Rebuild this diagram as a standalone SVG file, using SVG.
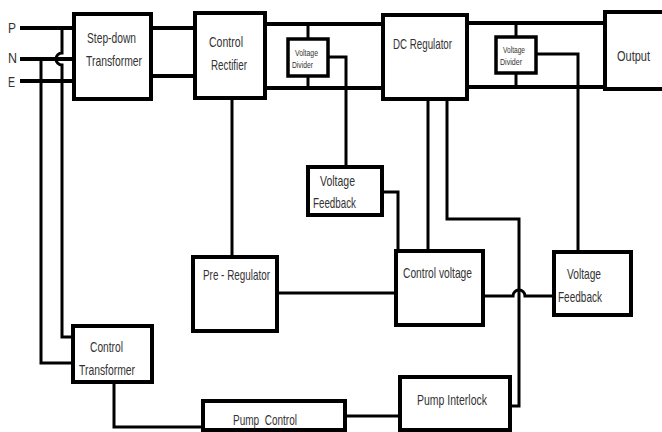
<svg xmlns="http://www.w3.org/2000/svg" width="662" height="432" viewBox="0 0 662 432">
<style>
.box{fill:#fff;stroke:#000;stroke-width:4}
.sbox{fill:#fff;stroke:#000;stroke-width:3.5}
.bus{fill:none;stroke:#000;stroke-width:4}
.wire{fill:none;stroke:#000;stroke-width:3}
text{font-family:"Liberation Sans Narrow","Liberation Sans",Arial,sans-serif;font-size:15px;fill:#333}
.sm{font-size:8.5px}
</style>
<rect width="662" height="432" fill="#fff"/>
<g id="connectors">
<path class="bus" d="M20,28H74M20,59H74M20,81H74"/>
<path class="wire" d="M41,59V363H73"/>
<path class="wire" d="M62,28V53a6,6 0 0 0 0,12V337H73"/>
<path class="bus" d="M151,28H195M151,76H195"/>
<path class="bus" d="M265,24H384M265,88H384"/>
<path class="wire" d="M308,24V39M308,76V88"/>
<path class="wire" d="M328,57H346V167"/>
<path class="bus" d="M467,23H605M467,87H605"/>
<path class="wire" d="M516,23V37M516,73V87"/>
<path class="wire" d="M536,54H578V252"/>
<path class="wire" d="M232,98V257"/>
<path class="wire" d="M382,192H398V251"/>
<path class="wire" d="M428,99V251"/>
<path class="wire" d="M447,99V219H519V406H510"/>
<path class="wire" d="M277,293H396"/>
<path class="wire" d="M483,296H513a6,6 0 0 1 12,0H555"/>
<path class="wire" d="M114,382V427H203"/>
<path class="wire" d="M345,416H400"/>
</g>
<g id="labels-pne">
<text x="8" y="33" textLength="8" lengthAdjust="spacingAndGlyphs">P</text>
<text x="8" y="63" textLength="9" lengthAdjust="spacingAndGlyphs">N</text>
<text x="8" y="87" textLength="7" lengthAdjust="spacingAndGlyphs">E</text>
</g>
<g id="stepdown">
<rect class="box" x="74" y="14" width="77" height="85"/>
<text x="87" y="43" textLength="49" lengthAdjust="spacingAndGlyphs">Step-down</text>
<text x="86" y="66" textLength="56" lengthAdjust="spacingAndGlyphs">Transformer</text>
</g>
<g id="rectifier">
<rect class="box" x="195" y="13" width="70" height="85"/>
<text x="209" y="47" textLength="34" lengthAdjust="spacingAndGlyphs">Control</text>
<text x="211" y="70" textLength="36" lengthAdjust="spacingAndGlyphs">Rectifier</text>
</g>
<g id="divider1">
<rect class="sbox" x="288" y="39" width="40" height="37"/>
<text class="sm" x="295" y="56" textLength="23" lengthAdjust="spacingAndGlyphs">Voltage</text>
<text class="sm" x="292" y="68" textLength="21" lengthAdjust="spacingAndGlyphs">Divider</text>
</g>
<g id="dcregulator">
<rect class="box" x="383" y="15" width="84" height="84"/>
<text x="393" y="49" textLength="59" lengthAdjust="spacingAndGlyphs">DC Regulator</text>
</g>
<g id="divider2">
<rect class="sbox" x="496" y="37" width="40" height="36"/>
<text class="sm" x="503" y="53" textLength="22" lengthAdjust="spacingAndGlyphs">Voltage</text>
<text class="sm" x="500" y="65" textLength="22" lengthAdjust="spacingAndGlyphs">Divider</text>
</g>
<g id="output">
<rect class="box" x="605" y="12" width="70" height="77"/>
<text x="617" y="61" textLength="33" lengthAdjust="spacingAndGlyphs">Output</text>
</g>
<g id="feedback1">
<rect class="box" x="308" y="167" width="74" height="48"/>
<text x="320" y="186" textLength="35" lengthAdjust="spacingAndGlyphs">Voltage</text>
<text x="313" y="208" textLength="43" lengthAdjust="spacingAndGlyphs">Feedback</text>
</g>
<g id="preregulator">
<rect class="box" x="193" y="257" width="84" height="74"/>
<text x="203" y="280" textLength="67" lengthAdjust="spacingAndGlyphs">Pre - Regulator</text>
</g>
<g id="controlvoltage">
<rect class="box" x="396" y="251" width="87" height="74"/>
<text x="403" y="278" textLength="69" lengthAdjust="spacingAndGlyphs">Control voltage</text>
</g>
<g id="feedback2">
<rect class="box" x="554" y="252" width="77" height="63"/>
<text x="567" y="279" textLength="34" lengthAdjust="spacingAndGlyphs">Voltage</text>
<text x="558" y="302" textLength="44" lengthAdjust="spacingAndGlyphs">Feedback</text>
</g>
<g id="controltransformer">
<rect class="box" x="73" y="326" width="79" height="56"/>
<text x="90" y="352" textLength="33" lengthAdjust="spacingAndGlyphs">Control</text>
<text x="79" y="375" textLength="56" lengthAdjust="spacingAndGlyphs">Transformer</text>
</g>
<g id="pumpcontrol">
<rect class="box" x="203" y="401" width="142" height="29"/>
<text x="233" y="425" textLength="64" lengthAdjust="spacingAndGlyphs" xml:space="preserve">Pump  Control</text>
</g>
<g id="pumpinterlock">
<rect class="box" x="400" y="377" width="110" height="53"/>
<text x="417" y="405" textLength="70" lengthAdjust="spacingAndGlyphs">Pump Interlock</text>
</g>
</svg>
